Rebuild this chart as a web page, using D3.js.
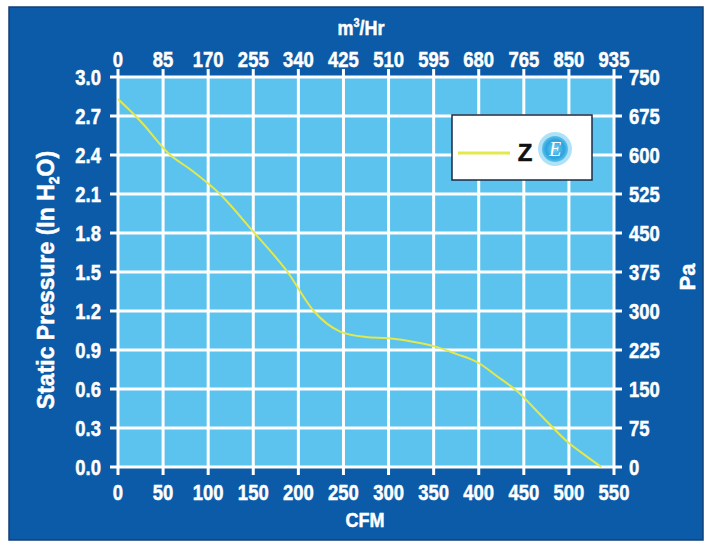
<!DOCTYPE html>
<html><head><meta charset="utf-8">
<script src="https://cdn.jsdelivr.net/npm/d3@7"></script>
<style>
body{margin:0;background:#fff;}
text{font-family:"Liberation Sans","Arial",sans-serif;font-weight:bold;fill:#fff;}
.lab{stroke:#fff;stroke-width:0.5;}
</style></head>
<body><svg id="c" width="706" height="543"></svg>
<script>
const cfm = [0, 25, 58, 80, 113, 150, 188, 217, 247, 275, 300, 330, 350, 375, 400, 420, 443, 470, 499, 520, 536];
const pressure = [2.83, 2.66, 2.40, 2.29, 2.10, 1.81, 1.50, 1.20, 1.04, 1.00, 0.99, 0.96, 0.93, 0.87, 0.80, 0.70, 0.58, 0.39, 0.19, 0.08, 0.0];
const cfmTicks = [0,50,100,150,200,250,300,350,400,450,500,550];
const m3Ticks = [0,85,170,255,340,425,510,595,680,765,850,935];
const inTicks = [0,0.3,0.6,0.9,1.2,1.5,1.8,2.1,2.4,2.7,3.0];
const paTicks = [0,75,150,225,300,375,450,525,600,675,750];
const seriesName = "Z";

const svg = d3.select("#c");
const L=118,R=614,T=77,B=467;
const x = d3.scaleLinear().domain([0,550]).range([L,R]);
const xTop = d3.scaleLinear().domain([0,935]).range([L,R]);
const y = d3.scaleLinear().domain([0,3]).range([B,T]);
const yR = d3.scaleLinear().domain([0,750]).range([B,T]);
const SX = 0.84, FS = 22;

svg.append("rect").attr("x",9).attr("y",7).attr("width",694).attr("height",533)
  .attr("fill","#0b5ba8").attr("stroke","#123f78").attr("stroke-width",1.5);
svg.append("rect").attr("x",L).attr("y",T).attr("width",R-L).attr("height",B-T).attr("fill","#5cc2ee");

const g = svg.append("g");
g.selectAll(".vg").data(cfmTicks).join("line")
  .attr("x1",d=>x(d)).attr("x2",d=>x(d)).attr("y1",T-8).attr("y2",B+8)
  .attr("stroke","#fff").attr("stroke-width",3);
g.selectAll(".hg").data(inTicks).join("line")
  .attr("y1",d=>y(d)).attr("y2",d=>y(d)).attr("x1",L-8).attr("x2",R+8)
  .attr("stroke","#fff").attr("stroke-width",3);

function lab(sel, data, fx, fy, anchor, fmt){
  sel.selectAll(null).data(data).join("text").attr("class","lab")
    .attr("transform",d=>`translate(${fx(d)},${fy(d)}) scale(${SX},1)`)
    .attr("text-anchor",anchor).attr("font-size",FS).text(fmt);
}
lab(svg, cfmTicks, d=>x(d), d=>500, "middle", d=>d);
lab(svg, m3Ticks, d=>xTop(d), d=>67, "middle", d=>d);
lab(svg, inTicks, d=>101, d=>y(d)+8, "end", d=>d.toFixed(1));
lab(svg, paTicks, d=>629, d=>yR(d)+8, "start", d=>d);

// titles
svg.append("text").attr("class","lab").attr("transform","translate(365,527) scale(0.9,1)").attr("text-anchor","middle").attr("font-size",20).text("CFM");
const tt = svg.append("text").attr("class","lab").attr("transform","translate(361,35) scale(0.9,1)").attr("text-anchor","middle").attr("font-size",20);
tt.append("tspan").text("m");
tt.append("tspan").attr("dy",-8).attr("font-size",12).text("3");
tt.append("tspan").attr("dy",8).text("/Hr");
const lt = svg.append("text").attr("class","lab").attr("transform","translate(54,280) rotate(-90)").attr("text-anchor","middle").attr("font-size",23);
lt.append("tspan").text("Static Pressure (In H");
lt.append("tspan").attr("dy",5).attr("font-size",14).text("2");
lt.append("tspan").attr("dy",-5).text("O)");
svg.append("text").attr("class","lab").attr("transform","translate(695,277) rotate(-90)").attr("text-anchor","middle").attr("font-size",22).text("Pa");

// curve
const pts = cfm.map((c,i)=>[c,pressure[i]]);
svg.append("path").datum(pts)
  .attr("d",d3.line().x(d=>x(d[0])).y(d=>y(d[1])).curve(d3.curveMonotoneX))
  .attr("fill","none").attr("stroke","#e3e84e").attr("stroke-width",2);

// legend
const lg = svg.append("g");
lg.append("rect").attr("x",452).attr("y",115).attr("width",140).attr("height",65)
  .attr("fill","#fff").attr("stroke","#1d2a44").attr("stroke-width",1.5);
lg.append("line").attr("x1",458).attr("x2",510).attr("y1",153).attr("y2",153)
  .attr("stroke","#e3e84e").attr("stroke-width",3);
lg.append("text").attr("x",525).attr("y",161).attr("text-anchor","middle").attr("font-size",24)
  .style("fill","#111").style("stroke","#111").style("stroke-width",0.5).text(seriesName);
const defs = svg.append("defs");
const rg = defs.append("radialGradient").attr("id","lg");
rg.append("stop").attr("offset","0%").attr("stop-color","#6fd0f5");
rg.append("stop").attr("offset","70%").attr("stop-color","#2ba3de");
rg.append("stop").attr("offset","100%").attr("stop-color","#5cc0ea");
lg.append("circle").attr("cx",555).attr("cy",149).attr("r",17).attr("fill","#8fd6f3").attr("opacity",0.7);
lg.append("circle").attr("cx",555).attr("cy",149).attr("r",13).attr("fill","url(#lg)");
lg.append("text").attr("x",555).attr("y",156).attr("text-anchor","middle").attr("font-size",20)
  .style("font-family","Liberation Serif, serif").style("font-style","italic").style("font-weight","normal").text("E");
</script></body></html>
